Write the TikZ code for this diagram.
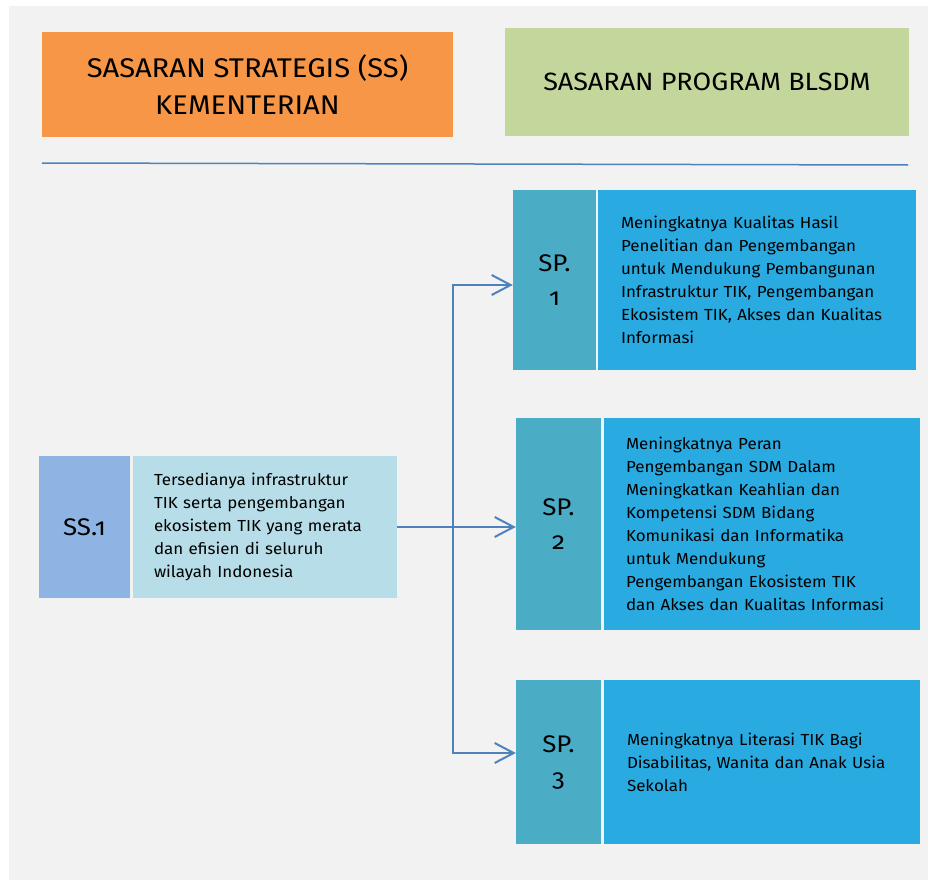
\documentclass[tikz,border=0pt]{standalone}
\usepackage{fontspec}
\setmainfont{Fira Sans}[Numbers=OldStyle]
\newfontfamily\bodyfont{Fira Sans}[Numbers=OldStyle, FakeStretch=1.06]
\newfontfamily\headfont{Fira Sans}[Numbers=OldStyle, FakeStretch=1.08]
\usetikzlibrary{arrows.meta}
\definecolor{pagegray}{HTML}{F2F2F2}
\definecolor{ssorange}{HTML}{F79646}
\definecolor{spgreen}{HTML}{C3D69B}
\definecolor{ssblue}{HTML}{8EB4E3}
\definecolor{sslight}{HTML}{B7DEE8}
\definecolor{spteal}{HTML}{4BACC6}
\definecolor{spblue}{HTML}{29ABE2}
\definecolor{linkblue}{HTML}{4F81BD}
\tikzset{
  head/.style={inner sep=0pt, align=center, font=\headfont\fontsize{27}{37}\selectfont, text=black},
  tag/.style={inner sep=0pt, align=center, font=\headfont\fontsize{24}{34}\selectfont, text=black},
  body/.style={inner ysep=0pt, align=left, text width=280pt, font=\bodyfont\fontsize{16}{23}\selectfont, text=black},
  arr/.style={draw=linkblue, line width=2pt, -{Straight Barb[length=19pt,width=20pt,line width=2pt]}},
  link/.style={draw=linkblue, line width=2pt}
}
\begin{document}
\begin{tikzpicture}[x=1pt, y=-1pt]
  % page area
  \useasboundingbox (0,0) rectangle (928,883);
  \fill[white] (0,0) rectangle (928,883);
  \fill[pagegray] (9,6) rectangle (928,880);

  % column headers
  \node[head, fill=ssorange, minimum width=411pt, minimum height=105pt] (hss) at (247.5,84.5)
    {SASARAN STRATEGIS (SS)\\KEMENTERIAN};
  \node[head, font=\headfont\fontsize{25}{34}\selectfont, fill=spgreen, minimum width=404pt, minimum height=108pt] (hsp) at (707,82)
    {SASARAN PROGRAM BLSDM};
  \coordinate (rulel) at (42,163);
  \coordinate (ruler) at (908,165);
  \draw[linkblue, line width=1.5pt] (rulel) -- (ruler);

  % strategic objective
  \node[tag, fill=ssblue, minimum width=91pt, minimum height=142pt] (ss) at (84.5,527) {SS.1};
  \node[body, fill=sslight, text width=222pt, inner xsep=21pt, minimum height=142pt] (sst) at (265,527)
    {Tersedianya infrastruktur\\TIK serta pengembangan\\ekosistem TIK yang merata\\dan efisien di seluruh\\wilayah Indonesia};

  % program objectives
  \node[tag, fill=spteal, minimum width=83pt, minimum height=180pt] (sp1) at (554.5,280) {SP.\\1};
  \node[body, fill=spblue, text width=272pt, inner xsep=23pt, minimum height=180pt] (sp1t) at (757,280)
    {Meningkatnya Kualitas Hasil\\Penelitian dan Pengembangan\\untuk Mendukung Pembangunan\\Infrastruktur TIK, Pengembangan\\Ekosistem TIK, Akses dan Kualitas\\Informasi};

  \node[tag, fill=spteal, minimum width=85pt, minimum height=212pt] (sp2) at (558.5,524) {SP.\\2};
  \node[body, fill=spblue, text width=272pt, inner xsep=22pt, minimum height=212pt] (sp2t) at (762,524)
    {Meningkatnya Peran\\Pengembangan SDM Dalam\\Meningkatkan Keahlian dan\\Kompetensi SDM Bidang\\Komunikasi dan Informatika\\untuk Mendukung\\Pengembangan Ekosistem TIK\\dan Akses dan Kualitas Informasi};

  \node[tag, fill=spteal, minimum width=85pt, minimum height=164pt] (sp3) at (558.5,762) {SP.\\3};
  \node[body, fill=spblue, text width=270pt, inner xsep=23pt, minimum height=164pt] (sp3t) at (762,762)
    {Meningkatnya Literasi TIK Bagi\\Disabilitas, Wanita dan Anak Usia\\Sekolah};

  % connectors
  \coordinate (hub) at (453,527);
  \draw[arr] (sst.east) -- (sst.east -| sp2.west);
  \draw[arr] (hub) |- ([yshift=-5pt]sp1.west);
  \draw[arr] (hub) |- ([yshift=9pt]sp3.west);
\end{tikzpicture}
\end{document}
